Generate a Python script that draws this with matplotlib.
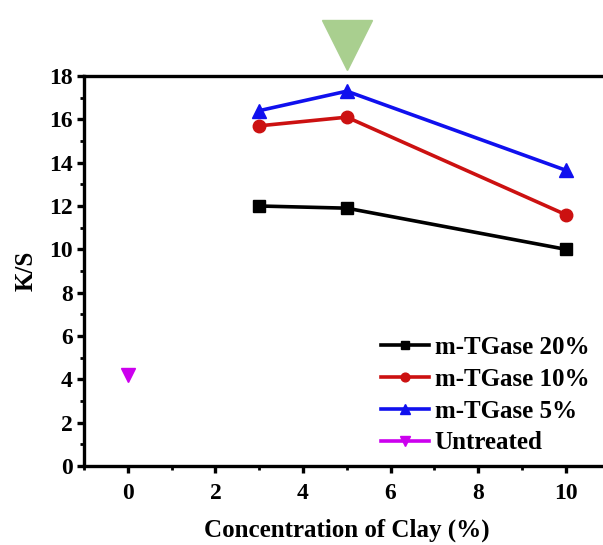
import matplotlib
matplotlib.use("Agg")
import matplotlib.pyplot as plt
from matplotlib.ticker import MultipleLocator

plt.rcParams['font.family'] = ['Liberation Serif', 'DejaVu Serif']
plt.rcParams['font.weight'] = 'bold'

clay = [3, 5, 10]
tg20 = [12.0, 11.9, 10.0]
tg10 = [15.7, 16.1, 11.6]
tg5 = [16.4, 17.3, 13.65]
untreated_x = [0]
untreated_y = [4.2]
highlight_x = [5]
highlight_y = [19.45]

fig = plt.figure(figsize=(6.03, 5.45), dpi=100)
ax = fig.add_axes([84/603, 79/545, 525.6/603, 390/545])

lw = 2.6
ax.plot(clay, tg20, color='black', marker='s', ms=8, lw=lw, label='m-TGase 20%')
ax.plot(clay, tg10, color='#cc1111', marker='o', ms=9, lw=lw, label='m-TGase 10%')
ax.plot(clay, tg5, color='#1010ee', marker='^', ms=10, lw=lw, label='m-TGase 5%')
ax.plot(untreated_x, untreated_y, color='#cc00ee', marker='v', ms=10, lw=lw, label='Untreated')
ax.plot(highlight_x, highlight_y, color='#a9cf8f', marker='v', ms=36, linestyle='none', clip_on=False)

ax.set_xlim(-1, 11)
ax.set_ylim(0, 18)
ax.xaxis.set_major_locator(MultipleLocator(2))
ax.xaxis.set_minor_locator(MultipleLocator(1))
ax.yaxis.set_major_locator(MultipleLocator(2))
ax.yaxis.set_minor_locator(MultipleLocator(1))
ax.set_xticks([0, 2, 4, 6, 8, 10])
for s in ax.spines.values():
    s.set_linewidth(2.4)
ax.tick_params(which='major', direction='out', length=5, width=2.4, labelsize=17, pad=3)
ax.tick_params(which='minor', direction='out', length=3, width=2.0)
ax.tick_params(axis='x', which='major', pad=7)
for lab in ax.get_xticklabels() + ax.get_yticklabels():
    lab.set_fontweight('bold')

ax.set_xlabel('Concentration of Clay (%)', fontsize=18, fontweight='bold', labelpad=11)
ax.set_ylabel('K/S', fontsize=18, fontweight='bold', labelpad=8)

handles, labels = ax.get_legend_handles_labels()
leg = ax.legend(handles[:4], labels[:4], loc='lower right', bbox_to_anchor=(0.995, -0.015),
                frameon=False, handlelength=1.9, handletextpad=0.25, markerscale=0.7,
                labelspacing=0.35, borderpad=0.2, prop={'weight': 'bold', 'size': 18})
fig.savefig('out.png', dpi=100)
